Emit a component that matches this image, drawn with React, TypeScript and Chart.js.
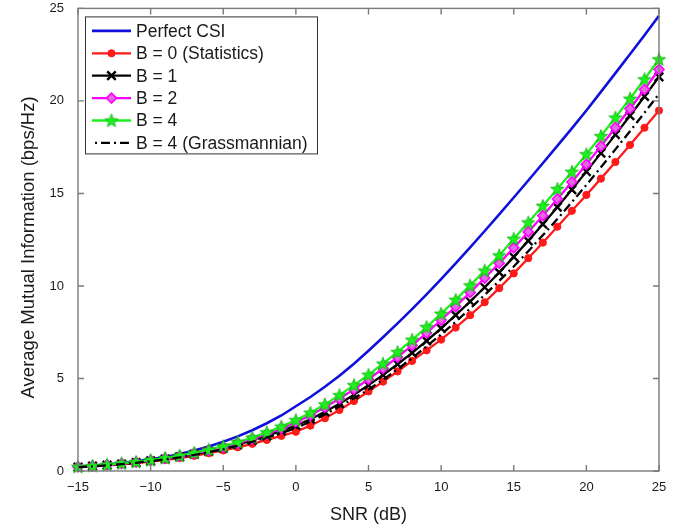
import { useEffect, useRef } from 'react';
import { Chart, registerables } from 'chart.js';
import { drawPoint } from 'chart.js/helpers';

Chart.register(...registerables);

const snrDb = [-15, -14, -13, -12, -11, -10, -9, -8, -7, -6, -5, -4, -3, -2, -1, 0, 1, 2, 3, 4, 5, 6, 7, 8, 9, 10, 11, 12, 13, 14, 15, 16, 17, 18, 19, 20, 21, 22, 23, 24, 25];
const xTicks = [-15, -10, -5, 0, 5, 10, 15, 20, 25];
const yTicks = [0, 5, 10, 15, 20, 25];

const perfectCsi = [0.24, 0.29, 0.35, 0.43, 0.52, 0.63, 0.76, 0.92, 1.11, 1.33, 1.58, 1.87, 2.20, 2.58, 3.00, 3.50, 4.00, 4.55, 5.15, 5.80, 6.50, 7.23, 7.98, 8.75, 9.55, 10.37, 11.22, 12.09, 12.97, 13.87, 14.78, 15.70, 16.63, 17.57, 18.52, 19.48, 20.49, 21.50, 22.52, 23.55, 24.60];
const b0Statistics = [0.20, 0.25, 0.30, 0.36, 0.43, 0.51, 0.60, 0.70, 0.82, 0.96, 1.11, 1.28, 1.47, 1.68, 1.90, 2.12, 2.45, 2.85, 3.30, 3.78, 4.30, 4.83, 5.38, 5.95, 6.52, 7.10, 7.75, 8.42, 9.12, 9.88, 10.68, 11.50, 12.34, 13.20, 14.06, 14.92, 15.80, 16.70, 17.62, 18.55, 19.48];
const b1 = [0.21, 0.26, 0.32, 0.38, 0.46, 0.55, 0.65, 0.77, 0.91, 1.06, 1.23, 1.43, 1.65, 1.90, 2.17, 2.46, 2.80, 3.20, 3.64, 4.12, 4.64, 5.19, 5.77, 6.38, 7.03, 7.71, 8.42, 9.16, 9.93, 10.73, 11.57, 12.44, 13.34, 14.26, 15.21, 16.18, 17.18, 18.18, 19.20, 20.24, 21.30];
const b2 = [0.22, 0.27, 0.33, 0.40, 0.48, 0.57, 0.68, 0.80, 0.95, 1.11, 1.29, 1.50, 1.74, 2.01, 2.30, 2.63, 3.01, 3.44, 3.91, 4.42, 4.96, 5.54, 6.15, 6.79, 7.46, 8.16, 8.89, 9.65, 10.43, 11.23, 12.06, 12.92, 13.80, 14.70, 15.62, 16.57, 17.55, 18.56, 19.58, 20.62, 21.70];
const b4 = [0.23, 0.28, 0.34, 0.41, 0.49, 0.59, 0.70, 0.83, 0.98, 1.15, 1.34, 1.56, 1.81, 2.09, 2.40, 2.75, 3.15, 3.60, 4.10, 4.64, 5.20, 5.80, 6.43, 7.09, 7.78, 8.50, 9.25, 10.03, 10.83, 11.65, 12.55, 13.43, 14.33, 15.24, 16.17, 17.12, 18.10, 19.10, 20.12, 21.17, 22.25];
const b4Grassmannian = [0.21, 0.25, 0.31, 0.37, 0.44, 0.53, 0.63, 0.74, 0.87, 1.02, 1.18, 1.37, 1.58, 1.81, 2.05, 2.32, 2.67, 3.06, 3.48, 3.93, 4.40, 4.93, 5.50, 6.10, 6.73, 7.38, 8.06, 8.78, 9.52, 10.28, 11.05, 11.88, 12.74, 13.62, 14.53, 15.46, 16.41, 17.38, 18.36, 19.36, 20.38];

const FONT = "'Liberation Sans', Arial, Helvetica, sans-serif";
const TEXT = '#1a1a1a';
const AXIS = '#7a7a7a';

function makeStar(r: number, fill: string, stroke: string): HTMLCanvasElement {
  const size = Math.ceil(2 * r + 2);
  const c = document.createElement('canvas');
  c.width = size;
  c.height = size;
  const g = c.getContext('2d')!;
  const cx = size / 2;
  const cy = size / 2 + 0.5;
  g.beginPath();
  for (let i = 0; i < 10; i++) {
    const a = -Math.PI / 2 + (i * Math.PI) / 5;
    const rr = i % 2 === 0 ? r : r * 0.42;
    const px = cx + rr * Math.cos(a);
    const py = cy + rr * Math.sin(a);
    if (i === 0) g.moveTo(px, py);
    else g.lineTo(px, py);
  }
  g.closePath();
  g.fillStyle = fill;
  g.fill();
  g.strokeStyle = stroke;
  g.lineWidth = 0.8;
  g.stroke();
  return c;
}

const fmt = (v: number) => (v < 0 ? '\u2212' + Math.abs(v) : String(v));

const framePlugin = {
  id: 'matlabFrame',
  afterDatasetsDraw(chart: any) {
    const { ctx, chartArea } = chart;
    const { left, right, top, bottom } = chartArea;
    const xs = chart.scales.x;
    const ys = chart.scales.y;
    ctx.save();
    ctx.strokeStyle = AXIS;
    ctx.lineWidth = 1.4;
    ctx.strokeRect(left, top, right - left, bottom - top);
    const tl = 6;
    ctx.beginPath();
    xTicks.forEach((v) => {
      const px = xs.getPixelForValue(v);
      ctx.moveTo(px, bottom);
      ctx.lineTo(px, bottom - tl);
      ctx.moveTo(px, top);
      ctx.lineTo(px, top + tl);
    });
    yTicks.forEach((v) => {
      const py = ys.getPixelForValue(v);
      ctx.moveTo(left, py);
      ctx.lineTo(left + tl, py);
      ctx.moveTo(right, py);
      ctx.lineTo(right - tl, py);
    });
    ctx.stroke();
    ctx.restore();
  },
};

const legendPlugin = {
  id: 'boxLegend',
  afterDraw(chart: any) {
    const { ctx, chartArea } = chart;
    const bx = chartArea.left + 7;
    const by = chartArea.top + 8;
    const bw = 232;
    const bh = 137;
    ctx.save();
    ctx.fillStyle = '#ffffff';
    ctx.fillRect(bx, by, bw, bh);
    ctx.strokeStyle = '#333333';
    ctx.lineWidth = 1;
    ctx.strokeRect(bx + 0.5, by + 0.5, bw, bh);
    const rowStep = 22.4;
    chart.data.datasets.forEach((ds: any, i: number) => {
      const y = by + 14.5 + i * rowStep;
      const x0 = bx + 7;
      const x1 = bx + 46;
      ctx.strokeStyle = ds.borderColor;
      ctx.lineWidth = ds.borderWidth;
      ctx.setLineDash(ds.borderDash || []);
      ctx.lineDashOffset = ds.borderDash ? 10 : 0;
      ctx.beginPath();
      ctx.moveTo(x0, y);
      ctx.lineTo(x1, y);
      ctx.stroke();
      ctx.setLineDash([]);
      ctx.lineDashOffset = 0;
      if (ds.pointRadius > 0) {
        ctx.fillStyle = ds.pointBackgroundColor;
        ctx.strokeStyle = ds.pointBorderColor;
        ctx.lineWidth = ds.pointBorderWidth;
        drawPoint(ctx, { pointStyle: ds.pointStyle, rotation: 0, radius: ds.pointRadius, borderWidth: ds.pointBorderWidth }, (x0 + x1) / 2, y);
      }
      ctx.fillStyle = TEXT;
      ctx.font = `17.5px ${FONT}`;
      ctx.textBaseline = 'middle';
      ctx.textAlign = 'left';
      ctx.fillText(ds.label, bx + 51, y + 1);
    });
    ctx.restore();
  },
};

export default function App() {
  const ref = useRef<HTMLCanvasElement | null>(null);

  useEffect(() => {
    if (!ref.current) return;
    const star = makeStar(7, '#1ef01e', '#10b010');
    const pts = (arr: number[]) => snrDb.map((x, i) => ({ x, y: arr[i] }));
    const chart = new Chart(ref.current, {
      type: 'line',
      data: {
        datasets: [
          {
            label: 'Perfect CSI',
            data: pts(perfectCsi),
            borderColor: '#1010dd',
            borderWidth: 2.6,
            pointRadius: 0,
            order: 6,
          },
          {
            label: 'B = 0 (Statistics)',
            data: pts(b0Statistics),
            borderColor: '#ff1a1a',
            borderWidth: 2.3,
            pointStyle: 'circle',
            pointRadius: 3.6,
            pointBackgroundColor: '#ff1a1a',
            pointBorderColor: '#ff1a1a',
            pointBorderWidth: 1,
            order: 5,
          },
          {
            label: 'B = 1',
            data: pts(b1),
            borderColor: '#000000',
            borderWidth: 2.3,
            pointStyle: 'crossRot',
            pointRadius: 6,
            pointBackgroundColor: '#000000',
            pointBorderColor: '#000000',
            pointBorderWidth: 2.4,
            order: 4,
          },
          {
            label: 'B = 2',
            data: pts(b2),
            borderColor: '#ff00ff',
            borderWidth: 2.3,
            pointStyle: 'rectRot',
            pointRadius: 5,
            pointBackgroundColor: '#e36ae3',
            pointBorderColor: '#ff00ff',
            pointBorderWidth: 1.6,
            order: 3,
          },
          {
            label: 'B = 4',
            data: pts(b4),
            borderColor: '#1ef01e',
            borderWidth: 2.3,
            pointStyle: star,
            pointRadius: 7,
            pointBackgroundColor: '#1ef01e',
            pointBorderColor: '#1ef01e',
            pointBorderWidth: 1,
            order: 2,
          },
          {
            label: 'B = 4 (Grassmannian)',
            data: pts(b4Grassmannian),
            borderColor: '#000000',
            borderWidth: 2.3,
            borderDash: [9, 4, 2, 4],
            pointRadius: 0,
            order: 1,
          },
        ] as any,
      },
      options: {
        animation: false,
        responsive: false,
        maintainAspectRatio: false,
        layout: { padding: { top: 7, right: 21, left: 0, bottom: 0 } },
        datasets: { line: { clip: false as any } } as any,
        plugins: {
          legend: { display: false },
          tooltip: { enabled: false },
        },
        scales: {
          x: {
            type: 'linear',
            min: -15,
            max: 25,
            afterBuildTicks: (s: any) => {
              s.ticks = xTicks.map((v) => ({ value: v }));
            },
            afterFit: (s: any) => {
              s.height = 58;
              s.paddingLeft = 0;
              s.paddingRight = 0;
            },
            grid: { display: false },
            border: { display: false },
            ticks: {
              padding: 1,
              autoSkip: false,
              maxRotation: 0,
              color: TEXT,
              font: { family: FONT, size: 13 },
              callback: (v: any) => fmt(Number(v)),
            },
            title: {
              display: true,
              text: 'SNR (dB)',
              color: TEXT,
              font: { family: FONT, size: 18 },
              padding: { top: 3, bottom: 3 },
            },
          },
          y: {
            type: 'linear',
            min: 0,
            max: 25,
            afterBuildTicks: (s: any) => {
              s.ticks = yTicks.map((v) => ({ value: v }));
            },
            afterFit: (s: any) => {
              s.width = 78;
              s.paddingTop = 0;
              s.paddingBottom = 0;
            },
            grid: { display: false },
            border: { display: false },
            ticks: {
              padding: 6,
              autoSkip: false,
              color: TEXT,
              font: { family: FONT, size: 13 },
              callback: (v: any) => fmt(Number(v)),
            },
            title: {
              display: true,
              text: 'Average Mutual Information (bps/Hz)   ',
              color: TEXT,
              font: { family: FONT, size: 18.5 },
              padding: { top: 18, bottom: 0 },
            },
          },
        },
      } as any,
      plugins: [framePlugin, legendPlugin],
    });
    return () => chart.destroy();
  }, []);

  return (
    <div style={{ position: 'absolute', left: 0, top: 0, width: 680, height: 529, background: '#fff' }}>
      <canvas ref={ref} width={680} height={529} style={{ display: 'block', width: 680, height: 529 }} />
    </div>
  );
}
